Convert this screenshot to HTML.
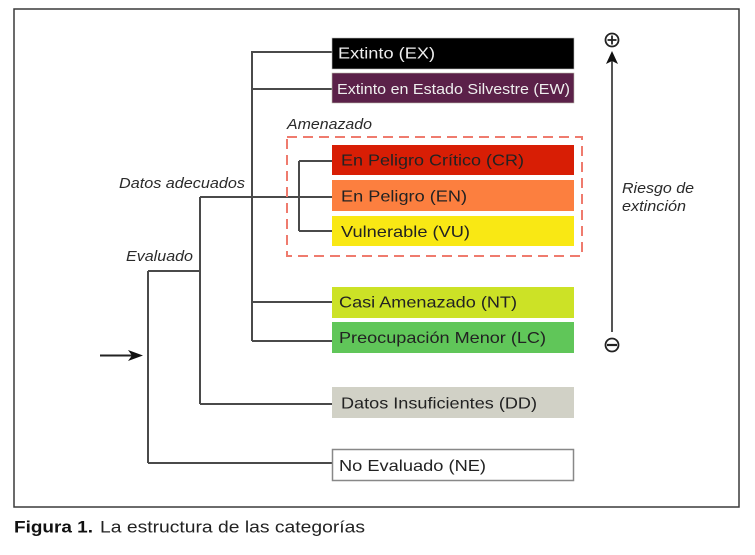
<!DOCTYPE html>
<html><head><meta charset="utf-8"><style>
html,body{margin:0;padding:0;background:#fff;}
svg{display:block;}
text{font-family:"Liberation Sans",Arial,sans-serif;}
</style></head><body>
<svg width="755" height="555" viewBox="0 0 755 555" xmlns="http://www.w3.org/2000/svg">
<rect x="14" y="9" width="725" height="498" fill="#fff" stroke="#3a3a3a" stroke-width="1.5"/>

<!-- connectors -->
<g stroke="#4a4a4a" stroke-width="2" fill="none">
  <line x1="252" y1="51" x2="252" y2="341"/>
  <line x1="252" y1="52" x2="332" y2="52"/>
  <line x1="252" y1="89" x2="332" y2="89"/>
  <line x1="252" y1="302" x2="332" y2="302"/>
  <line x1="252" y1="341" x2="332" y2="341"/>
  <line x1="299" y1="161" x2="299" y2="231"/>
  <line x1="299" y1="161" x2="332" y2="161"/>
  <line x1="299" y1="231" x2="332" y2="231"/>
  <line x1="200" y1="197" x2="332" y2="197"/>
  <line x1="200" y1="197" x2="200" y2="404"/>
  <line x1="200" y1="404" x2="332" y2="404"/>
  <line x1="148" y1="271" x2="200" y2="271"/>
  <line x1="148" y1="271" x2="148" y2="463"/>
  <line x1="148" y1="463" x2="332" y2="463"/>
  <line x1="100" y1="355.5" x2="134" y2="355.5" stroke="#222"/>
  <line x1="612" y1="60" x2="612" y2="332" stroke="#555"/>
</g>
<polygon points="143,355.5 128,350 132,355.5 128,361" fill="#111"/>
<polygon points="612,51 606,64 612,61 618,64" fill="#111"/>

<circle cx="612" cy="40" r="6.5" fill="none" stroke="#222" stroke-width="1.8"/>
<line x1="607.5" y1="40" x2="616.5" y2="40" stroke="#222" stroke-width="1.8"/>
<line x1="612" y1="35.5" x2="612" y2="44.5" stroke="#222" stroke-width="1.8"/>
<circle cx="612" cy="345" r="6.5" fill="none" stroke="#222" stroke-width="1.8"/>
<line x1="607" y1="345" x2="617" y2="345" stroke="#222" stroke-width="2.2"/>

<rect x="287" y="137" width="295" height="119" fill="none" stroke="#ef7b6e" stroke-width="2" stroke-dasharray="10,6"/>

<rect x="332" y="38" width="242" height="31" fill="#000" stroke="#bbb" stroke-width="0.6"/>
<rect x="332" y="73" width="242" height="30" fill="#5b2149" stroke="#bba" stroke-width="0.6"/>
<rect x="332" y="145" width="242" height="30" fill="#d81e05"/>
<rect x="332" y="180" width="242" height="31" fill="#fc7f3f"/>
<rect x="332" y="216" width="242" height="30" fill="#f9e814"/>
<rect x="332" y="287" width="242" height="31" fill="#cce226"/>
<rect x="332" y="322" width="242" height="31" fill="#60c659"/>
<rect x="332" y="387" width="242" height="31" fill="#d1d1c6"/>
<rect x="332.5" y="449.5" width="241" height="31" fill="#fff" stroke="#888" stroke-width="1.5"/>

<g font-size="16">
<text x="338" y="58.5" fill="#eee" textLength="97" lengthAdjust="spacingAndGlyphs">Extinto (EX)</text>
<text x="337" y="94" fill="#eee" font-size="14.5" textLength="233" lengthAdjust="spacingAndGlyphs">Extinto en Estado Silvestre (EW)</text>
<text x="341" y="165.5" fill="#222" textLength="183" lengthAdjust="spacingAndGlyphs">En Peligro Crítico (CR)</text>
<text x="341" y="201.5" fill="#222" textLength="126" lengthAdjust="spacingAndGlyphs">En Peligro (EN)</text>
<text x="341" y="237" fill="#222" textLength="129" lengthAdjust="spacingAndGlyphs">Vulnerable (VU)</text>
<text x="339" y="307.5" fill="#222" textLength="178" lengthAdjust="spacingAndGlyphs">Casi Amenazado (NT)</text>
<text x="339" y="343" fill="#222" textLength="207" lengthAdjust="spacingAndGlyphs">Preocupación Menor (LC)</text>
<text x="341" y="408.5" fill="#222" textLength="196" lengthAdjust="spacingAndGlyphs">Datos Insuficientes (DD)</text>
<text x="339" y="471" fill="#222" textLength="147" lengthAdjust="spacingAndGlyphs">No Evaluado (NE)</text>
</g>

<g font-size="14.5" font-style="italic" fill="#2a2a2a">
<text x="287" y="129" textLength="85" lengthAdjust="spacingAndGlyphs">Amenazado</text>
<text x="119" y="188" textLength="126" lengthAdjust="spacingAndGlyphs">Datos adecuados</text>
<text x="126" y="261" textLength="67" lengthAdjust="spacingAndGlyphs">Evaluado</text>
<text x="622" y="193" textLength="72" lengthAdjust="spacingAndGlyphs">Riesgo de</text>
<text x="622" y="211" textLength="64" lengthAdjust="spacingAndGlyphs">extinción</text>
</g>

<text x="14" y="532.5" font-size="17" font-weight="bold" fill="#111" textLength="79" lengthAdjust="spacingAndGlyphs">Figura 1.</text>
<text x="100" y="532.5" font-size="17" fill="#222" textLength="265" lengthAdjust="spacingAndGlyphs">La estructura de las categorías</text>
</svg>
</body></html>
